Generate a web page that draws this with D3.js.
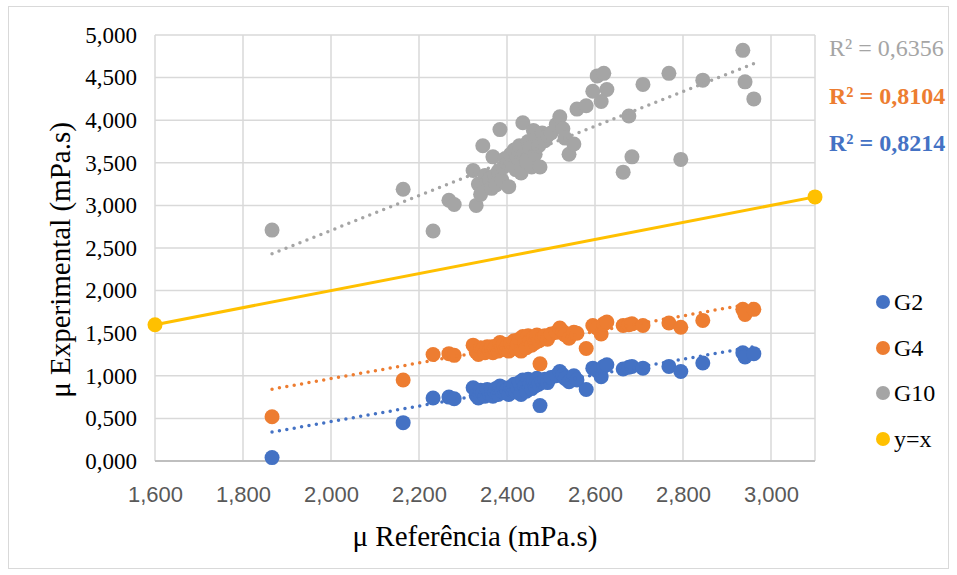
<!DOCTYPE html>
<html>
<head>
<meta charset="utf-8">
<script src="https://cdn.jsdelivr.net/npm/d3@7"></script>
<style>
	body { margin: 0; background: #fff; }
	.serif { font-family: "Liberation Serif", "Times New Roman", serif; }
	.narrow { font-family: "Liberation Sans Narrow", "Arial Narrow", "Liberation Sans", sans-serif; }
</style>
</head>
<body>
<div id="chart"></div>
<script>
// Reference viscosity (x) shared by the three groups
const xRef = [
	1866, 2164, 2232, 2268, 2280, 2323, 2330, 2335, 2340, 2345,
	2350, 2355, 2360, 2365, 2368, 2372, 2375, 2380, 2384, 2388,
	2392, 2396, 2400, 2404, 2408, 2412, 2416, 2420, 2424, 2428,
	2432, 2436, 2440, 2444, 2448, 2452, 2456, 2460, 2464, 2468,
	2472, 2475, 2480, 2486, 2492, 2500, 2512, 2520, 2527, 2532,
	2541, 2552, 2559, 2580, 2595, 2605, 2614, 2620, 2627, 2664,
	2677, 2684, 2709, 2768, 2795, 2845, 2936, 2941, 2961,
];
const g2 = [
	40, 450, 740, 750, 730, 860, 770, 740, 830, 800,
	760, 840, 790, 830, 760, 810, 850, 780, 880, 820,
	860, 800, 840, 780, 870, 830, 900, 810, 860, 920,
	780, 950, 880, 820, 960, 900, 850, 940, 880, 970,
	900, 650, 930, 960, 920, 980, 1000, 1050, 1010, 970,
	930, 1000, 950, 840, 1090, 1060, 990, 1110, 1130, 1080,
	1100, 1110, 1090, 1110, 1050, 1150, 1270, 1220, 1260,
];
const g4 = [
	520, 950, 1250, 1260, 1240, 1360, 1280, 1250, 1330, 1310,
	1270, 1340, 1300, 1340, 1270, 1320, 1350, 1290, 1390, 1330,
	1370, 1310, 1350, 1290, 1380, 1340, 1410, 1320, 1370, 1430,
	1290, 1460, 1390, 1330, 1470, 1410, 1360, 1450, 1390, 1480,
	1410, 1140, 1440, 1470, 1430, 1490, 1510, 1560, 1520, 1480,
	1440, 1510, 1500, 1320, 1590, 1560, 1490, 1610, 1630, 1590,
	1600, 1610, 1590, 1620, 1570, 1650, 1780, 1720, 1780,
];
const g10 = [
	2710, 3190, 2700, 3060, 3010, 3410, 3000, 3250, 3130, 3700,
	3350, 3280, 3310, 3200, 3570, 3350, 3240, 3400, 3890, 3300,
	3450, 3550, 3500, 3220, 3600, 3480, 3650, 3420, 3560, 3700,
	3380, 3970, 3620, 3520, 3750, 3680, 3450, 3880, 3600, 3800,
	3700, 3450, 3850, 3760, 3820, 3850, 3950, 4040, 3900, 3790,
	3600, 3720, 4130, 4170, 4340, 4520, 4220, 4550, 4360, 3390,
	4050, 3570, 4420, 4550, 3540, 4470, 4820, 4450, 4250,
];
// y = x reference line
const identityX = [1600, 3100];

const seriesNames = ["G2", "G4", "G10", "y=x"];
const seriesColors = ["#4472C4", "#ED7D31", "#A5A5A5", "#FFC000"];
const r2Labels = ["R² = 0,6356", "R² = 0,8104", "R² = 0,8214"];

const xTicks = [1600, 1800, 2000, 2200, 2400, 2600, 2800, 3000];
const xTickLabels = ["1,600", "1,800", "2,000", "2,200", "2,400", "2,600", "2,800", "3,000"];
const yTicks = [0, 500, 1000, 1500, 2000, 2500, 3000, 3500, 4000, 4500, 5000];
const yTickLabels = ["0,000", "0,500", "1,000", "1,500", "2,000", "2,500", "3,000", "3,500", "4,000", "4,500", "5,000"];

const W = 957, H = 575;
const plot = { left: 155, right: 815, top: 35, bottom: 461 };

const svg = d3.select("#chart").append("svg").attr("width", W).attr("height", H);

// chart border
svg.append("rect")
	.attr("x", 8.5).attr("y", 6.5)
	.attr("width", W - 17).attr("height", H - 13)
	.attr("fill", "#fff").attr("stroke", "#d9d9d9");

const x = d3.scaleLinear().domain([1600, 3100]).range([plot.left, plot.right]);
const y = d3.scaleLinear().domain([0, 5000]).range([plot.bottom, plot.top]);

// grid
const grid = svg.append("g").attr("stroke", "#d9d9d9").attr("stroke-width", 1.5);
yTicks.forEach((t) => {
	grid.append("line").attr("x1", plot.left).attr("x2", plot.right).attr("y1", y(t)).attr("y2", y(t));
});
xTicks.concat([3100]).forEach((t) => {
	grid.append("line").attr("x1", x(t)).attr("x2", x(t)).attr("y1", plot.top).attr("y2", plot.bottom);
});

// x axis line
svg.append("line")
	.attr("x1", plot.left).attr("x2", plot.right)
	.attr("y1", y(0)).attr("y2", y(0))
	.attr("stroke", "#bfbfbf").attr("stroke-width", 2);

// axes labels
const xAxis = d3.axisBottom(x).tickValues(xTicks).tickSize(0).tickPadding(25)
	.tickFormat((d, i) => xTickLabels[i]);
const gx = svg.append("g").attr("transform", `translate(0,${y(0)})`).call(xAxis);
gx.select(".domain").remove();
gx.selectAll("text").attr("class", "narrow").attr("font-size", 22).attr("fill", "#595959");

const yAxis = d3.axisLeft(y).tickValues(yTicks).tickSize(0).tickPadding(18)
	.tickFormat((d, i) => yTickLabels[i]);
const gy = svg.append("g").attr("transform", `translate(${plot.left},0)`).call(yAxis);
gy.select(".domain").remove();
gy.selectAll("text").attr("class", "serif").attr("font-size", 23).attr("fill", "#000");

// axis titles
svg.append("text").attr("class", "serif")
	.attr("x", 475).attr("y", 546)
	.attr("text-anchor", "middle").attr("font-size", 29)
	.text("μ Referência (mPa.s)");

svg.append("text").attr("class", "serif")
	.attr("transform", `translate(70,${(plot.top + plot.bottom) / 2 + 12}) rotate(-90)`)
	.attr("text-anchor", "middle").attr("font-size", 29)
	.text("μ Experimental (mPa.s)");

// y = x line
const idLine = d3.line().x((d) => x(d)).y((d) => y(d));
svg.append("path").attr("d", idLine(identityX))
	.attr("fill", "none").attr("stroke", seriesColors[3]).attr("stroke-width", 3);

// scatter groups
const groups = [g2, g4, g10];
groups.forEach((vals, gi) => {
	svg.append("g").selectAll("circle")
		.data(xRef.map((xv, i) => [xv, vals[i]]))
		.join("circle")
		.attr("cx", (d) => x(d[0])).attr("cy", (d) => y(d[1]))
		.attr("r", 7.5).attr("fill", seriesColors[gi]);
});
svg.append("g").selectAll("circle")
	.data(identityX)
	.join("circle")
	.attr("cx", (d) => x(d)).attr("cy", (d) => y(d))
	.attr("r", 7.5).attr("fill", seriesColors[3]);

// linear trend lines (least squares)
function fit(xs, ys) {
	const mx = d3.mean(xs), my = d3.mean(ys);
	let sxy = 0, sxx = 0;
	xs.forEach((xv, i) => { sxy += (xv - mx) * (ys[i] - my); sxx += (xv - mx) ** 2; });
	const b = sxy / sxx;
	return (v) => my + b * (v - mx);
}
const [xMin, xMax] = d3.extent(xRef);
groups.forEach((vals, gi) => {
	const f = fit(xRef, vals);
	svg.append("line")
		.attr("x1", x(xMin)).attr("y1", y(f(xMin)))
		.attr("x2", x(xMax)).attr("y2", y(f(xMax)))
		.attr("stroke", seriesColors[gi]).attr("stroke-width", 3.5)
		.attr("stroke-linecap", "round").attr("stroke-dasharray", "0 7.5");
});

// R² labels
const r2Order = [2, 1, 0];
const r2Y = [56, 104, 151];
r2Labels.forEach((t, i) => {
	svg.append("text").attr("class", "serif")
		.attr("x", 829).attr("y", r2Y[i])
		.attr("font-size", 24)
		.attr("font-weight", i === 0 ? "normal" : "bold")
		.attr("fill", seriesColors[r2Order[i]])
		.text(t);
});

// legend
const legendY = [302, 348, 393, 439];
seriesNames.forEach((name, i) => {
	svg.append("circle").attr("cx", 883).attr("cy", legendY[i]).attr("r", 7).attr("fill", seriesColors[i]);
	svg.append("text").attr("class", "serif")
		.attr("x", 894).attr("y", legendY[i] + 8)
		.attr("font-size", 24).text(name);
});
</script>
</body>
</html>
